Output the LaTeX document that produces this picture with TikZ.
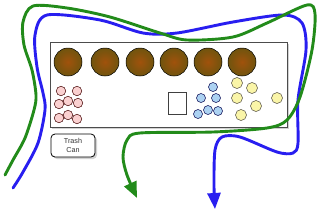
\documentclass[tikz,border=0pt]{standalone}
\usepackage{fontspec}
\setmainfont{Liberation Sans}
\usetikzlibrary{arrows.meta,shadows}
\definecolor{routegreen}{RGB}{34,139,26}
\definecolor{routeblue}{RGB}{40,30,240}
\definecolor{browncore}{RGB}{160,82,12}
\definecolor{brownedge}{RGB}{112,84,14}
\definecolor{pinkfill}{RGB}{250,208,208}
\definecolor{bluefill}{RGB}{172,210,242}
\definecolor{yellowfill}{RGB}{250,245,168}
\tikzset{
  board/.style={draw=black!70, line width=0.7pt, fill=white, inner sep=0pt,
    drop shadow={shadow xshift=2pt, shadow yshift=-2pt, opacity=0.35}},
  bigc/.style={circle, minimum size=28pt, inner sep=0pt, draw=black, line width=0.5pt,
    inner color=browncore, outer color=brownedge},
  pinkc/.style={circle, minimum size=9.5pt, inner sep=0pt, draw=black!75!red, line width=0.5pt, fill=pinkfill},
  bluec/.style={circle, minimum size=9pt, inner sep=0pt, draw=black!70!blue, line width=0.5pt, fill=bluefill},
  yellowc/.style={circle, minimum size=11pt, inner sep=0pt, draw=black!80!yellow, line width=0.5pt, fill=yellowfill},
  route/.style={line width=2.9pt, line cap=round, -{Triangle[length=16pt,width=13pt]}},
}
\begin{document}
\begin{tikzpicture}[x=1pt,y=-1pt]
\useasboundingbox (0,0) rectangle (320,215);
\fill[white] (0,0) rectangle (320,215);
% board
\node[board, minimum width=237pt, minimum height=85pt, anchor=north west] (board) at (50,42) {};
% big circles
\node[bigc] (b1) at (68,62) {};
\node[bigc] (b2) at (105,62) {};
\node[bigc] (b3) at (140,62) {};
\node[bigc] (b4) at (174,62) {};
\node[bigc] (b5) at (208,62) {};
\node[bigc] (b6) at (242,62) {};
% pink
\node[pinkc] (p1) at (61,91) {};
\node[pinkc] (p2) at (77,91) {};
\node[pinkc] (p3) at (59,104) {};
\node[pinkc] (p4) at (68,101) {};
\node[pinkc] (p5) at (78,103) {};
\node[pinkc] (p6) at (59,118) {};
\node[pinkc] (p7) at (68,115) {};
\node[pinkc] (p8) at (77,119) {};
% small rectangle
\node[draw=black!75, line width=0.6pt, fill=white, minimum width=18pt, minimum height=22pt, inner sep=0pt] (box) at (177,103) {};
% blue
\node[bluec] (c1) at (213,87) {};
\node[bluec] (c2) at (201,98) {};
\node[bluec] (c3) at (216,98) {};
\node[bluec] (c4) at (208,110) {};
\node[bluec] (c5) at (218,111) {};
\node[bluec] (c6) at (198,114) {};
% yellow
\node[yellowc] (y1) at (237,83) {};
\node[yellowc] (y2) at (252,88) {};
\node[yellowc] (y3) at (237,98) {};
\node[yellowc] (y4) at (256,106) {};
\node[yellowc] (y5) at (241,115) {};
\node[yellowc] (y6) at (277,98) {};
% trash can
\node[board, draw=black, line width=0.8pt, rounded corners=4pt, minimum width=44pt, minimum height=23pt,
  align=center, font=\fontsize{7.2}{8.6}\selectfont, text=black!80] (trash) at (73,145.5) {Trash\\Can};
% routes
\coordinate (bs) at (13,188);
\coordinate (be) at (215,209);
\coordinate (gs) at (5,175);
\coordinate (ge) at (137,198);
\draw[route, routeblue] plot[smooth] coordinates {(bs) (23,172) (38,143) (45,110) (43,93) (37,67) (35,35) (47,15) (100,20) (143,33) (177,33) (233,22) (283,15) (302,23) (306,50) (298,100) (298,143) (293,153) (277,152) (240,137) (222,137) (215,150) (214,185) (be)};
\draw[route, routegreen] plot[smooth] coordinates {(gs) (13,160) (25,138) (34,110) (36,95) (32,70) (24,45) (23,22) (33,6) (67,8) (110,17) (160,33) (187,40) (233,37) (267,23) (307,5) (315,14) (312,50) (300,97) (287,120) (267,128) (213,132) (140,133) (127,140) (123,157) (127,175) (ge)};
\end{tikzpicture}
\end{document}
